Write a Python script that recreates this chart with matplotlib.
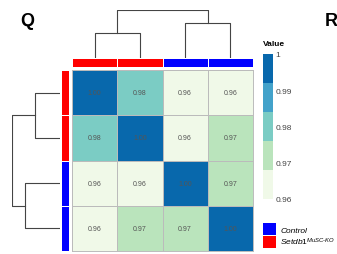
"""
correlation heatmap with dendrograms (panel Q)
"""

import matplotlib.pyplot as plt
from matplotlib.colors import ListedColormap, BoundaryNorm, Normalize
from matplotlib.colorbar import ColorbarBase
from matplotlib.patches import Patch

# correlation values, rows/cols in dendrogram order
corr = [
    [1.00, 0.98, 0.96, 0.96],
    [0.98, 1.00, 0.96, 0.97],
    [0.96, 0.96, 1.00, 0.97],
    [0.96, 0.97, 0.97, 1.00],
]
groups = ["KO", "KO", "Control", "Control"]
group_colors = {"Control": "#0000ff", "KO": "#ff0000"}
# merges: (left node, right node, height); nodes 0-3 are leaves
merges = [(0, 1, 0.52), (2, 3, 0.73), (4, 5, 1.0)]
cbar_ticks = [0.96, 0.97, 0.98, 0.99, 1.0]
cbar_labels = ["0.96", "0.97", "0.98", "0.99", "1"]

plt.rcParams["font.family"] = ["Liberation Sans", "DejaVu Sans"]
plt.rcParams["mathtext.fontset"] = "custom"
plt.rcParams["mathtext.it"] = "Liberation Sans:italic"
plt.rcParams["mathtext.rm"] = "Liberation Sans"

colors = ["#f0f9e8", "#bae4bc", "#7bccc4", "#43a2ca", "#0868ac"]
cmap = ListedColormap(colors)
norm = BoundaryNorm([0.955, 0.965, 0.975, 0.985, 0.995, 1.005], cmap.N)

W, H = 337, 255
fig = plt.figure(figsize=(W / 100, H / 100), dpi=100)


def px_axes(x0, y0, x1, y1):
    # pixel box (top-left origin) -> figure axes
    return fig.add_axes([x0 / W, 1 - y1 / H, (x1 - x0) / W, (y1 - y0) / H])


def draw_dendro(ax, vertical=False):
    pos = {i: i + 0.5 for i in range(len(corr))}
    hgt = {i: 0.0 for i in range(len(corr))}
    for k, (a, b, h) in enumerate(merges):
        xs = [pos[a], pos[a], pos[b], pos[b]]
        ys = [hgt[a], h, h, hgt[b]]
        if vertical:
            ax.plot(ys, xs, color="#444444", lw=0.8)
        else:
            ax.plot(xs, ys, color="#444444", lw=0.8)
        node = len(corr) + k
        pos[node] = (pos[a] + pos[b]) / 2
        hgt[node] = h
    ax.axis("off")


# heatmap
ax = px_axes(72, 71, 253, 252)
ax.pcolormesh(corr, cmap=cmap, norm=norm, edgecolors="#bbbbbb", linewidth=0.7)
for i, row in enumerate(corr):
    for j, v in enumerate(row):
        ax.text(j + 0.5, i + 0.5, f"{v:.2f}", ha="center", va="center",
                fontsize=5, color="#555555")
ax.set_xlim(0, 4)
ax.set_ylim(4, 0)
ax.set_xticks([])
ax.set_yticks([])
for s in ax.spines.values():
    s.set_color("#bbbbbb")
    s.set_linewidth(0.7)

# annotation bars
row_cols = ListedColormap([group_colors[g] for g in groups])
ax_top = px_axes(72, 59, 253, 68)
ax_top.pcolormesh([list(range(4))], cmap=row_cols, edgecolors="white", linewidth=0.6)
ax_top.set_xlim(0, 4)
ax_top.axis("off")
ax_left = px_axes(61, 71, 69, 252)
ax_left.pcolormesh([[i] for i in range(4)], cmap=row_cols, edgecolors="white", linewidth=0.6)
ax_left.set_ylim(4, 0)
ax_left.axis("off")

# dendrograms
ax_dt = px_axes(72, 11, 253, 59)
draw_dendro(ax_dt)
ax_dt.set_xlim(0, 4)
ax_dt.set_ylim(0, 1.0)
ax_dl = px_axes(12, 71, 60, 252)
draw_dendro(ax_dl, vertical=True)
ax_dl.set_ylim(4, 0)
ax_dl.set_xlim(1.0, 0)

# colorbar
ax_cb = px_axes(263, 55, 273, 200)
cb = ColorbarBase(ax_cb, cmap=cmap, norm=Normalize(0.96, 1.0), orientation="vertical")
cb.set_ticks(cbar_ticks)
cb.set_ticklabels(cbar_labels)
cb.outline.set_visible(False)
ax_cb.tick_params(length=0, labelsize=6, labelcolor="#444444", pad=2)
fig.text(263 / W, 1 - 45 / H, "Value", fontsize=6, fontweight="bold", va="center")

# legend
handles = [Patch(facecolor=group_colors["Control"], label="Control"),
           Patch(facecolor=group_colors["KO"], label="$\\it{Setdb1}^{\\it{MuSC\\text{-}KO}}$")]
fig.legend(handles=handles, loc="upper left", bbox_to_anchor=(257 / W, 1 - 218 / H),
           frameon=False, prop={"style": "italic", "size": 6},
           handlelength=1.6, handleheight=1.9, handletextpad=0.5, labelspacing=0.05,
           borderpad=0.2)

fig.text(20 / W, 1 - 21 / H, "Q", fontsize=13, fontweight="bold", va="center")
fig.text(325 / W, 1 - 21 / H, "R", fontsize=13, fontweight="bold", va="center")

fig.savefig("out.png", dpi=100)
